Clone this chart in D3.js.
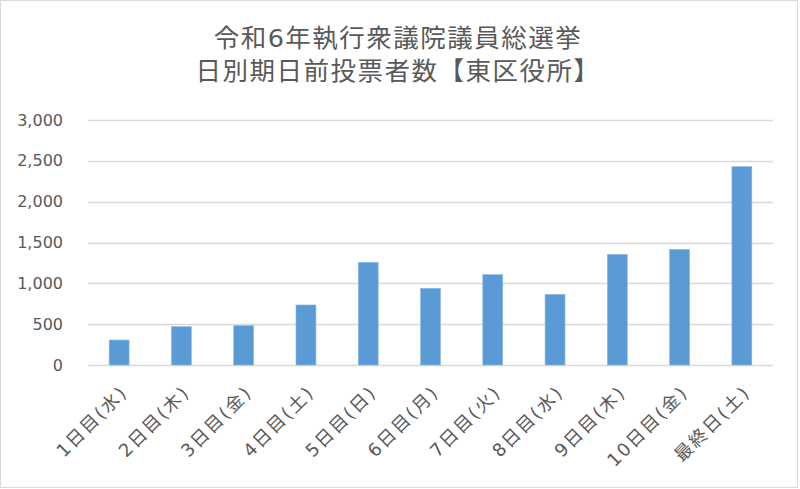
<!DOCTYPE html>
<html lang="ja">
  <head>
    <meta charset="UTF-8" />
    <title>日別期日前投票者数</title>
    <style>
      body {
        margin: 0;
        background: #fff;
      }
      #chart text {
        font-family: "DejaVu Sans", "Noto Sans CJK JP", sans-serif;
        fill: #595959;
      }
    </style>
  </head>
  <body>
    <div id="chart"></div>
    <script src="https://cdnjs.cloudflare.com/ajax/libs/d3/7.8.5/d3.min.js"></script>
    <script>
      // data
      const titleLines = ["令和6年執行衆議院議員総選挙", "日別期日前投票者数【東区役所】"];
      const days = [
        "1日目(水)", "2日目(木)", "3日目(金)", "4日目(土)", "5日目(日)",
        "6日目(月)", "7日目(火)", "8日目(水)", "9日目(木)", "10日目(金)", "最終日(土)"
      ];
      const voters = [306, 469, 482, 735, 1257, 939, 1106, 865, 1355, 1416, 2428];
      const yTicks = [0, 500, 1000, 1500, 2000, 2500, 3000];

      const width = 800,
            height = 489,
            margin = { top: 120, right: 27, bottom: 124, left: 88 },
            innerW = width - margin.left - margin.right,
            innerH = height - margin.top - margin.bottom;

      const svg = d3.select("#chart")
        .append("svg")
        .attr("width", width)
        .attr("height", height);

      // chart area border
      svg.append("rect")
        .attr("x", 0.5)
        .attr("y", 0.5)
        .attr("width", width - 3)
        .attr("height", height - 2)
        .attr("fill", "#fff")
        .attr("stroke", "#d9d9d9");

      svg.append("text")
        .attr("text-anchor", "middle")
        .style("font-size", "25.5px")
        .style("letter-spacing", "1.5px")
        .selectAll("tspan")
        .data(titleLines)
        .join("tspan")
          .attr("x", width / 2 - 2)
          .attr("y", (d, i) => 47 + i * 33)
          .text(d => d);

      const g = svg.append("g")
        .attr("transform", `translate(${margin.left}, ${margin.top})`);

      const x = d3.scaleBand()
        .domain(days)
        .range([0, innerW])
        .paddingInner(0.68)
        .paddingOuter(0.34);

      const y = d3.scaleLinear()
        .domain([0, 3000])
        .range([innerH, 0]);

      // gridlines
      g.append("g")
        .selectAll("line")
        .data(yTicks)
        .join("line")
          .attr("x1", 0)
          .attr("x2", innerW)
          .attr("y1", d => Math.round(y(d)) + 0.5)
          .attr("y2", d => Math.round(y(d)) + 0.5)
          .attr("stroke", "#d9d9d9")
          .attr("stroke-width", 1.3);

      // y axis labels
      const yAxis = g.append("g")
        .call(d3.axisLeft(y).tickValues(yTicks).tickFormat(d3.format(",")).tickSize(0).tickPadding(25));
      yAxis.select(".domain").remove();
      yAxis.selectAll("text")
        .style("font-size", "16px");

      g.selectAll(".bar")
        .data(voters)
        .join("rect")
          .attr("class", "bar")
          .attr("x", (d, i) => x(days[i]))
          .attr("y", d => y(d))
          .attr("width", x.bandwidth())
          .attr("height", d => innerH - y(d))
          .attr("fill", "#5b9bd5")
          .attr("stroke", "#8db8e3")
          .attr("stroke-width", 0.6);

      // x axis labels, rotated
      g.append("g")
        .selectAll("text")
        .data(days)
        .join("text")
          .attr("text-anchor", "end")
          .attr("dy", "0.35em")
          .attr("transform", d => `translate(${x(d) + x.bandwidth() / 2 + 5}, ${innerH + 24}) rotate(-45)`)
          .style("font-size", "18px")
          .style("letter-spacing", "2px")
          .text(d => d);
    </script>
  </body>
</html>
